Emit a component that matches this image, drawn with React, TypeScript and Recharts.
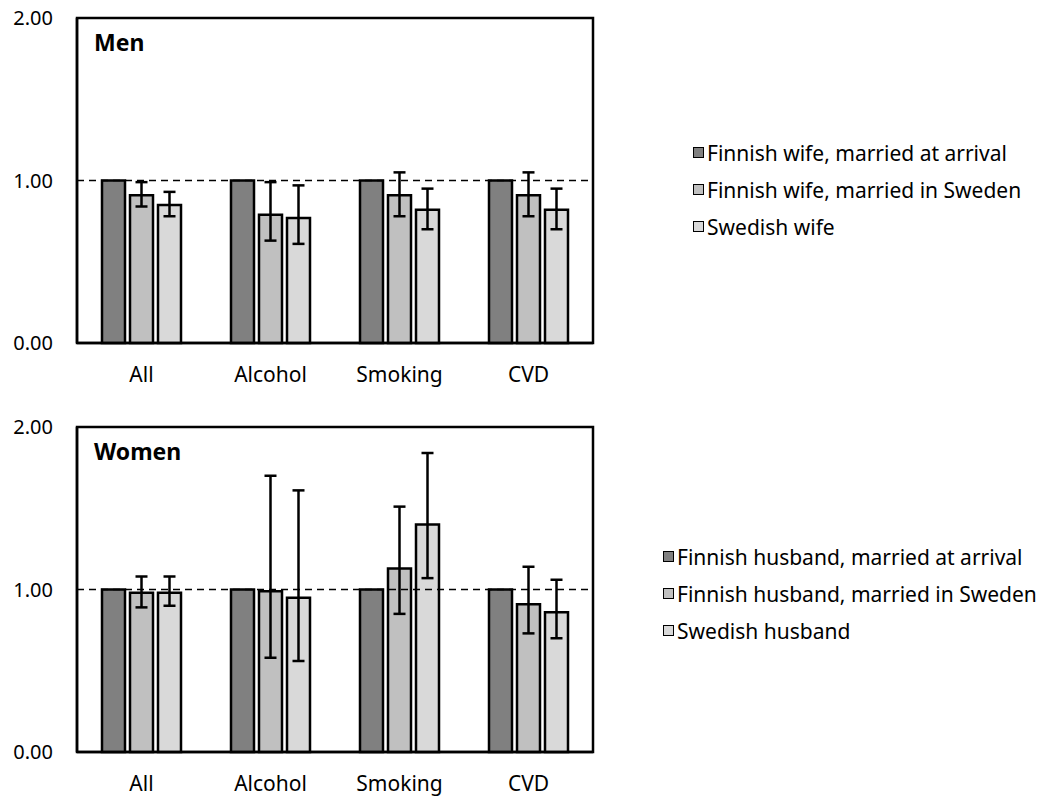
import { BarChart, Bar, XAxis, YAxis, ErrorBar, ReferenceLine, ReferenceArea, Legend, Label } from 'recharts'

const categories = ['All', 'Alcohol', 'Smoking', 'CVD']
const yTicks = [0, 1, 2]

const menLabels = ['Finnish wife, married at arrival', 'Finnish wife, married in Sweden', 'Swedish wife']
const womenLabels = ['Finnish husband, married at arrival', 'Finnish husband, married in Sweden', 'Swedish husband']
const colors = ['#808080', '#c0c0c0', '#d9d9d9']

// men: hazard ratios with 95% CI (reference group = 1)
const menRef = [1, 1, 1, 1]
const menFinSwe = [0.91, 0.79, 0.91, 0.91]
const menFinSweLo = [0.84, 0.63, 0.78, 0.78]
const menFinSweHi = [0.99, 0.99, 1.05, 1.05]
const menSwe = [0.85, 0.77, 0.82, 0.82]
const menSweLo = [0.78, 0.61, 0.70, 0.70]
const menSweHi = [0.93, 0.97, 0.95, 0.95]

// women
const womenRef = [1, 1, 1, 1]
const womenFinSwe = [0.98, 0.99, 1.13, 0.91]
const womenFinSweLo = [0.89, 0.58, 0.85, 0.73]
const womenFinSweHi = [1.08, 1.70, 1.51, 1.14]
const womenSwe = [0.98, 0.95, 1.40, 0.86]
const womenSweLo = [0.90, 0.56, 1.07, 0.70]
const womenSweHi = [1.08, 1.61, 1.84, 1.06]

function rows(base: number[], a: number[], aLo: number[], aHi: number[], b: number[], bLo: number[], bHi: number[]) {
  return categories.map((c, i) => ({
    cat: c,
    base: base[i],
    a: a[i],
    aErr: [a[i] - aLo[i], aHi[i] - a[i]],
    b: b[i],
    bErr: [b[i] - bLo[i], bHi[i] - b[i]],
  }))
}

function LegendBox({ labels }: { labels: string[] }) {
  return (
    <div style={{ fontSize: 21, color: '#000' }}>
      {labels.map((l, i) => (
        <div key={l} style={{ display: 'flex', alignItems: 'center', height: 37, whiteSpace: 'nowrap' }}>
          <span style={{ width: 9, height: 9, background: colors[i], border: '1.5px solid #000', marginRight: 3 }} />
          {l}
        </div>
      ))}
    </div>
  )
}

function Panel({ title, data, labels, legendLeft, legendTop }: any) {
  return (
    <BarChart width={1050} height={400} data={data} margin={{ top: 18, right: 457, left: 0, bottom: 7 }} barSize={23} barGap={5}>
      <XAxis dataKey="cat" axisLine={{ stroke: '#000', strokeWidth: 2.5 }} tickLine={false} tickSize={0} tickMargin={24}
        tick={{ fill: '#000', fontSize: 21 }} height={50} />
      <YAxis domain={[0, 2]} ticks={yTicks} tickFormatter={(v: number) => v.toFixed(2)} axisLine={{ stroke: '#000', strokeWidth: 2.5 }}
        tickLine={false} tickSize={0} tickMargin={24} tick={{ fill: '#000', fontSize: 20 }} width={77} />
      <ReferenceLine y={1} stroke="#000" strokeWidth={1.5} strokeDasharray="7 5" />
      <Bar dataKey="base" fill={colors[0]} stroke="#000" strokeWidth={2.5} isAnimationActive={false} />
      <Bar dataKey="a" fill={colors[1]} stroke="#000" strokeWidth={2.5} isAnimationActive={false}>
        <ErrorBar dataKey="aErr" width={6} stroke="#000" strokeWidth={2.5} direction="y" zIndex={1000} />
      </Bar>
      <Bar dataKey="b" fill={colors[2]} stroke="#000" strokeWidth={2.5} isAnimationActive={false}>
        <ErrorBar dataKey="bErr" width={6} stroke="#000" strokeWidth={2.5} direction="y" zIndex={1000} />
      </Bar>
      <ReferenceArea y1={0} y2={2} fill="none" stroke="#000" strokeWidth={2.5} ifOverflow="visible">
        <Label value={title} position="insideTopLeft" offset={17} fill="#000" fontSize={23} fontWeight="bold" />
      </ReferenceArea>
      <Legend layout="vertical" align="center" verticalAlign="middle"
        wrapperStyle={{ left: legendLeft, top: legendTop, width: 400, height: 111 }}
        content={() => <LegendBox labels={labels} />} />
    </BarChart>
  )
}

export default function App() {
  const men = rows(menRef, menFinSwe, menFinSweLo, menFinSweHi, menSwe, menSweLo, menSweHi)
  const women = rows(womenRef, womenFinSwe, womenFinSweLo, womenFinSweHi, womenSwe, womenSweLo, womenSweHi)
  return (
    <div style={{ position: 'absolute', left: 0, top: 0, width: 1050, height: 796, fontFamily: '"Noto Sans", sans-serif', background: '#fff' }}>
      <div style={{ position: 'absolute', left: 0, top: 0 }}>
        <Panel title="Men" data={men} labels={menLabels} legendLeft={693} legendTop={134} />
      </div>
      <div style={{ position: 'absolute', left: 0, top: 409 }}>
        <Panel title="Women" data={women} labels={womenLabels} legendLeft={663} legendTop={129} />
      </div>
    </div>
  )
}
